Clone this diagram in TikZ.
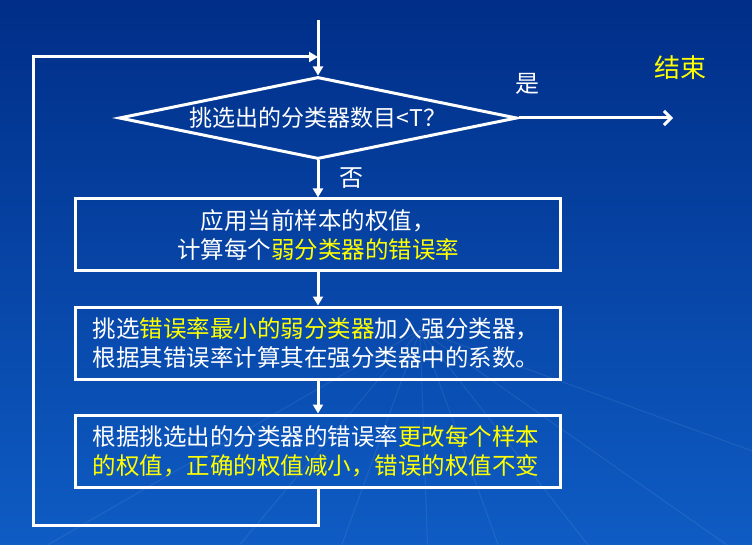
\documentclass[tikz,border=0pt]{standalone}
\usepackage{fontspec}
\newfontfamily\cjk{Noto Sans CJK SC}
\usetikzlibrary{positioning,shapes.geometric,arrows.meta}

\definecolor{bgtop}{RGB}{0,46,136}
\definecolor{bgbot}{RGB}{14,92,196}
\definecolor{hilite}{RGB}{255,255,0}
\newcommand{\yel}[1]{\textcolor{hilite}{#1}}

\tikzset{
  test/.style={diamond, draw=white, line width=3pt, aspect=4.85,
    minimum width=398pt, minimum height=82pt, inner sep=0pt,
    text=white, font=\cjk\fontsize{23pt}{28pt}\selectfont},
  proc/.style={rectangle, draw=white, line width=3pt, minimum width=485pt,
    minimum height=72pt, text width=451pt, inner xsep=17pt, inner ysep=0pt,
    text=white, font=\cjk\fontsize{23.5pt}{29pt}\selectfont},
  lbl/.style={text=white, font=\cjk\fontsize{24pt}{28pt}\selectfont},
  flow/.style={draw=white, line width=3pt, -{Triangle[length=9pt,width=10pt]}},
}

\begin{document}
\begin{tikzpicture}[x=1pt,y=-1pt]

  % background
  \fill[top color=bgtop, middle color=bgtop, bottom color=bgbot] (0,0) rectangle (752,545);
  \useasboundingbox (0,0) rectangle (752,545);
  \begin{scope}
    \clip (0,330) rectangle (752,545);
    \foreach \a in {200,215,232,250,268,290,310,330}
      \draw[white, opacity=0.08, line width=1pt] (420,330) -- ++(\a:-600);
  \end{scope}

  % Nodes
  \node[test] (check) at (318,118) {挑选出的分类器数目<T？}; %
  \node[proc, align=center, below = 37pt of check] (weigh)
       {应用当前样本的权值，\\计算每个\yel{弱分类器的错误率}}; %
  \node[proc, align=left, below = 33pt of weigh] (pick)
       {挑选\yel{错误率最小的弱分类器}加入强分类器，\\根据其错误率计算其在强分类器中的系数。}; %
  \node[proc, align=left, below = 33pt of pick] (update)
       {根据挑选出的分类器的错误率\yel{更改每个样本}\\\yel{的权值，正确的权值减小，错误的权值不变}}; %

  \node[lbl] (yes) at ([xshift=9pt,yshift=34pt]check.east) {是};
  \node[lbl] (no) at ([xshift=33pt,yshift=-18pt]check.south) {否};
  \node[lbl, text=hilite, font=\cjk\fontsize{26pt}{30pt}\selectfont] (finish) at (680,68) {结束};

  \coordinate (entry) at (318,20);
  \coordinate (merge) at (318,57);
  \coordinate (stop) at (673,118);
  \coordinate (back) at (33,525);

  % edges
  \draw[flow] (entry) -- (check);
  \draw[flow] (check) -- (weigh);
  \draw[flow] (weigh) -- (pick);
  \draw[flow] (pick) -- (update);
  \draw[white, line width=3pt, -{Straight Barb[length=7pt,width=14pt]}] (check.east) -- (stop);
  \draw[flow] (update.south) |- (back) |- (merge);

\end{tikzpicture}
\end{document}
